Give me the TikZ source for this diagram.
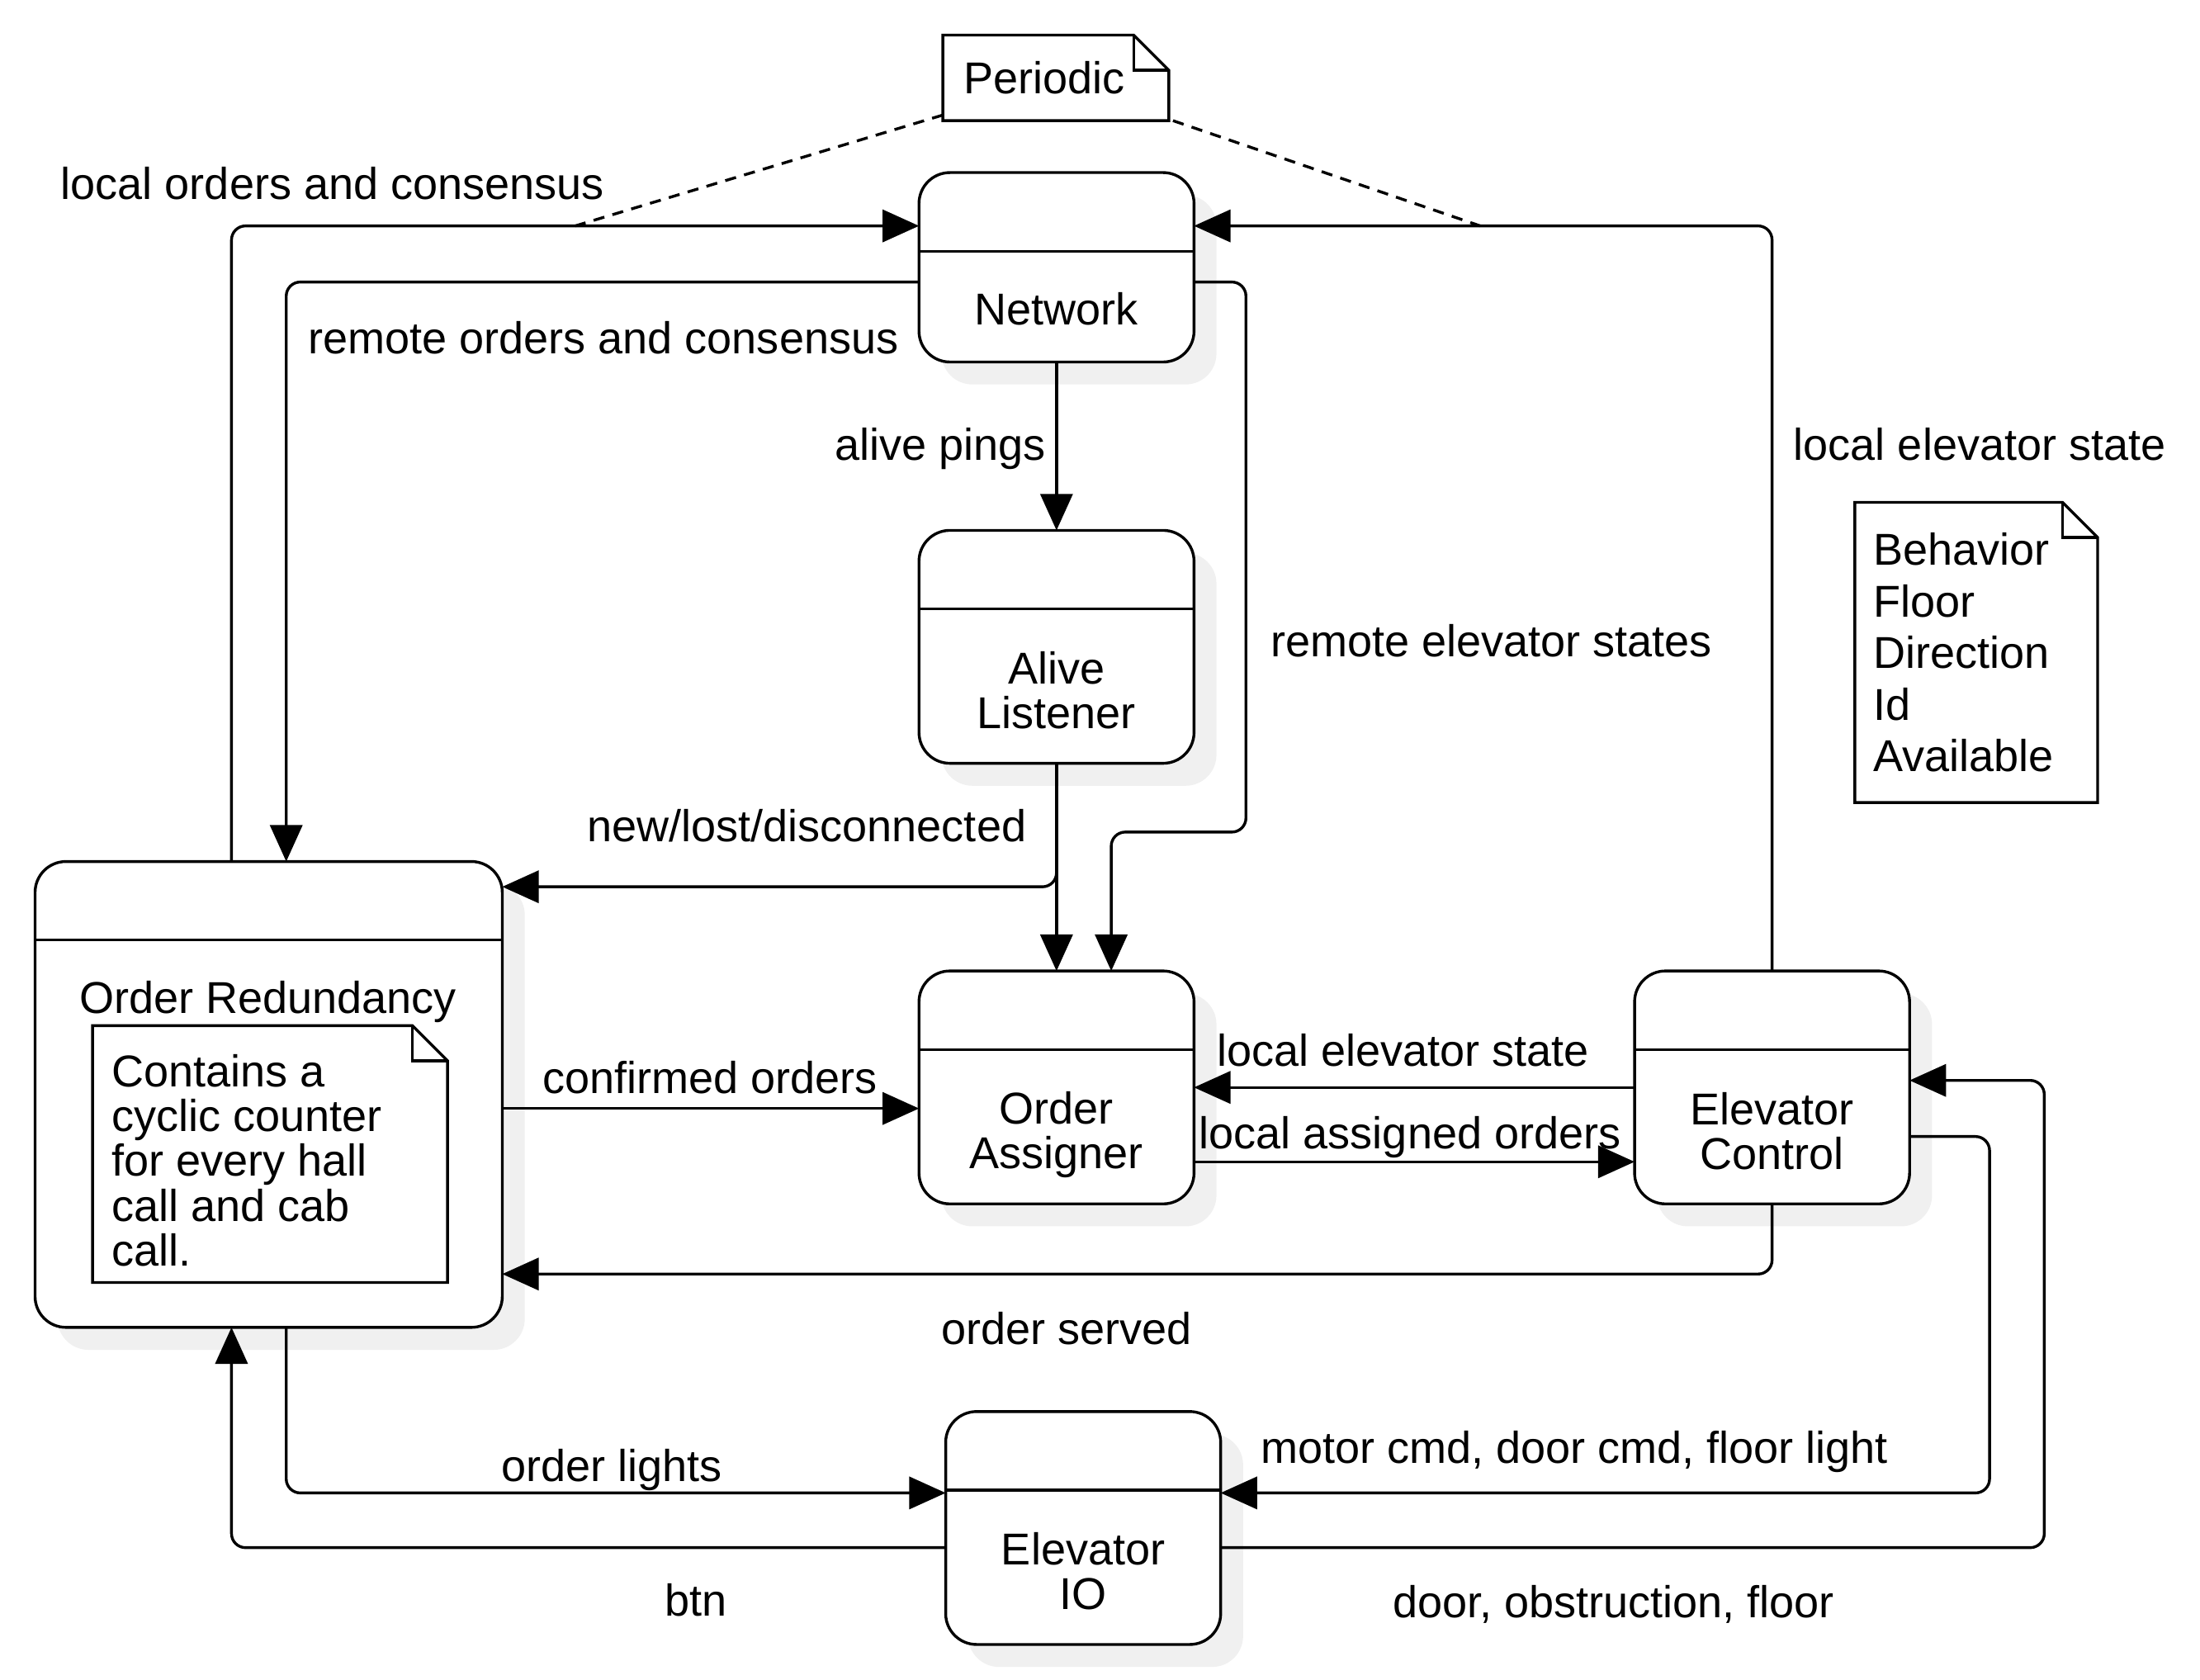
\documentclass[tikz,border=0pt]{standalone}
\usepackage{fontspec}
\setmainfont{Liberation Sans}
\usetikzlibrary{arrows.meta,calc,shadows}
\begin{document}
\begin{tikzpicture}[x=0.5pt,y=-0.5pt,
  every node/.style={font=\fontsize{15.9pt}{15.9pt}\selectfont, inner sep=0pt, outer sep=0pt},
  ln/.style={line width=1pt},
  conn/.style={line width=1pt, rounded corners=5pt, -{Triangle[length=13pt,width=11.5pt]}},
  lbl/.style={anchor=base},
  box/.style={draw, line width=1pt, fill=white, rounded corners=11pt, minimum width=98pt, minimum height=83pt, anchor=north west,
    drop shadow={shadow xshift=8pt, shadow yshift=-8pt, fill=black!6, opacity=1}},
  note/.style={anchor=north west, align=left, inner xsep=6.5pt, inner ysep=0pt},
  dashedline/.style={line width=1pt, dash pattern=on 4pt off 3pt}
]
\useasboundingbox (0,0) rectangle (1568,1196.8);

% state boxes
\node[box, minimum height=67.5pt] (net) at (655,123) {};
\node[box] (alive) at (655,378) {};
\node[box, minimum width=166.5pt, minimum height=166pt] (ored) at (25,614) {};
\node[box] (assign) at (655,692) {};
\node[box] (ectl) at (1165,692) {};
\node[box] (eio) at (674,1006) {};
\foreach \b in {net,alive,ored,assign,ectl,eio}
  \draw[ln] ($(\b.north west)+(0,56)$) -- ($(\b.north east)+(0,56)$);

% box labels
\node (netL) at (753,220) {Network};
\node[align=center] (aliveL) at (753,492) {Alive\\Listener};
\node[anchor=base] (oredL) at (191,722) {Order Redundancy};
\node[align=center] (assignL) at (753,809) {Order\\Assigner};
\node[align=center] (ectlL) at (1263,806) {Elevator\\Control};
\node[align=center] (eioL) at (772,1120) {Elevator\\IO};

% notes
\node[note, text width=65.5pt, inner xsep=7.5pt, minimum height=30.5pt] (per) at (672,25) {Periodic};
\node[note, text width=73.5pt, minimum height=107pt, font=\fontsize{15.9pt}{18.4pt}\selectfont] (beh) at (1322,358) {Behavior\\Floor\\Direction\\Id\\Available};
\node[note, minimum width=126.5pt, minimum height=91.5pt] (cnote) at (66,731) {};
\node[anchor=base west, align=left] (cnoteT) at (79.5,902) {Contains a\\cyclic counter\\for every hall\\call and cab\\call.};
\foreach \n/\f in {per/12.5pt, beh/12.5pt, cnote/12.5pt} {
  \draw[ln] (\n.south west) -- (\n.north west) -- ([xshift=-\f]\n.north east) -- ([yshift=-\f]\n.north east) -- (\n.south east) -- cycle;
  \draw[ln] ([xshift=-\f]\n.north east) |- ([yshift=-\f]\n.north east);
}

% connectors
\draw[conn] ($(ored.north west)+(140,0)$) |- ($(net.north west)+(0,38)$);
\draw[conn] ($(net.north west)+(0,78)$) -| ($(ored.north west)+(179,0)$);
\draw[conn] (net.south) -- (alive.north);
\coordinate (c4) at (888,593);
\draw[conn] ($(net.north east)+(0,78)$) -| (c4) -| ($(assign.north west)+(137,0)$);
\draw[conn] (alive.south) -- (assign.north);
\draw[conn] (alive.south) |- ($(ored.north east)+(0,18)$);
\draw[conn] ($(ored.north east)+(0,176)$) -- ($(assign.north west)+(0,98)$);
\draw[conn] ($(ectl.north west)+(0,83)$) -- ($(assign.north east)+(0,83)$);
\draw[conn] ($(assign.north east)+(0,136)$) -- ($(ectl.north west)+(0,136)$);
\draw[conn] (ectl.south) |- ($(ored.north east)+(0,294)$);
\draw[conn] (ectl.north) |- ($(net.north east)+(0,38)$);
\draw[conn] ($(ored.south west)+(179,0)$) |- ($(eio.north west)+(0,58)$);
\draw[conn] ($(eio.north west)+(0,97)$) -| ($(ored.south west)+(140,0)$);
\coordinate (c14) at (1418,1064);
\draw[conn] ($(ectl.north east)+(0,118)$) -| (c14) -- ($(eio.north east)+(0,58)$);
\coordinate (c15) at (1457,1103);
\draw[conn] ($(eio.north east)+(0,97)$) -- (c15) |- ($(ectl.north east)+(0,78)$);

% dashed links
\coordinate (dl) at (410,161);
\coordinate (dr) at (1055,161);
\draw[dashedline] ($(per.south west)+(0,-4)$) -- (dl);
\draw[dashedline] ($(per.south east)+(3,0)$) -- (dr);

% connector labels
\node[lbl] (l1) at (237,142) {local orders and consensus};
\node[lbl] (l2) at (430,252) {remote orders and consensus};
\node[lbl] (l3) at (670,328) {alive pings};
\node[lbl] (l4) at (1063,468) {remote elevator states};
\node[lbl] (l5) at (575,600) {new/lost/disconnected};
\node[lbl] (l6) at (506,779) {confirmed orders};
\node[lbl] (l7) at (1000,760) {local elevator state};
\node[lbl] (l8) at (1005,819) {local assigned orders};
\node[lbl] (l9) at (760,958) {order served};
\node[lbl] (l10) at (1411,328) {local elevator state};
\node[lbl] (l11) at (436,1056) {order lights};
\node[lbl] (l12) at (496,1152) {btn};
\node[lbl] (l13) at (1122,1043) {motor cmd, door cmd, floor light};
\node[lbl] (l14) at (1150,1153) {door, obstruction, floor};
\end{tikzpicture}
\end{document}
